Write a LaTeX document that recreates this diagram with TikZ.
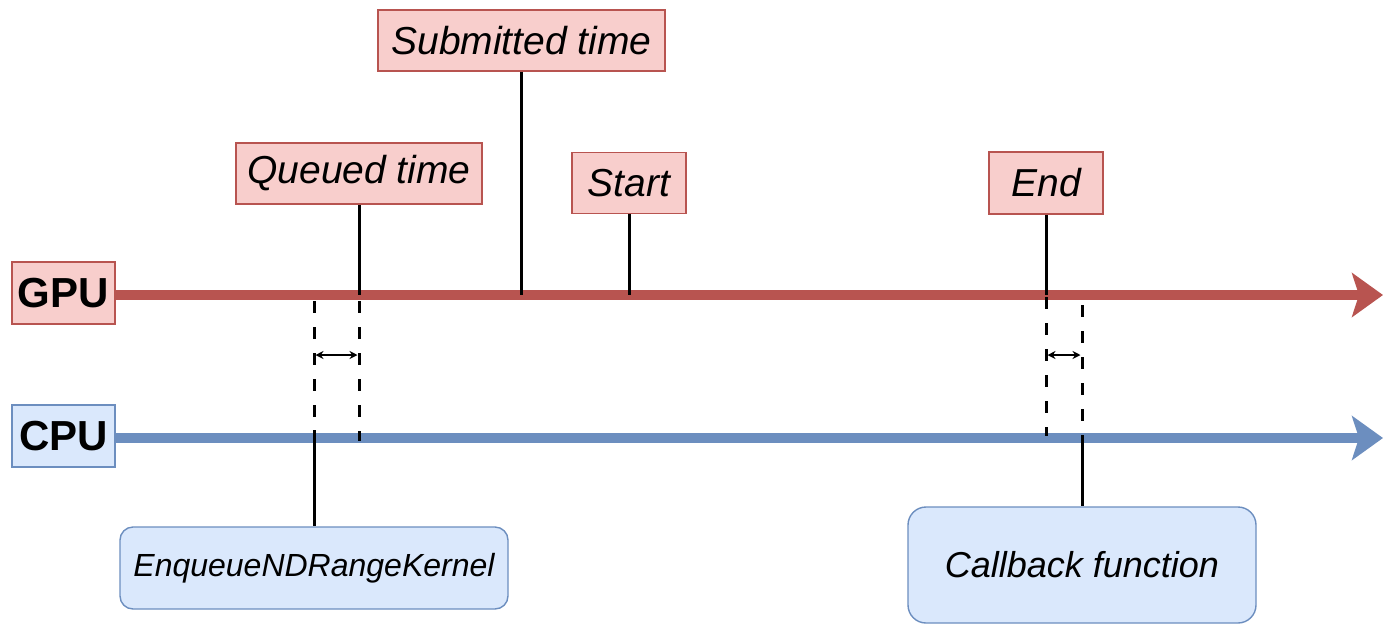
\documentclass[tikz,border=0pt]{standalone}
\usepackage{fontspec}
\setmainfont{Liberation Sans}
\usetikzlibrary{arrows.meta}
\definecolor{redfill}{HTML}{F8CECC}
\definecolor{redline}{HTML}{B85450}
\definecolor{bluefill}{HTML}{DAE8FC}
\definecolor{blueline}{HTML}{6C8EBF}
\tikzset{
  event/.style={draw=redline, fill=redfill, line width=1.6pt, inner sep=0pt,
    font=\fontsize{39}{46}\selectfont\itshape},
  lane/.style={line width=1.6pt, inner sep=0pt,
    font=\fontsize{42}{48}\selectfont\bfseries},
  call/.style={draw=blueline, fill=bluefill, line width=1.4pt, inner sep=0pt,
    rounded corners=13pt},
  axis/.style={line width=10pt, -{Stealth[length=31pt,width=44pt,inset=7pt]}},
  tick/.style={line width=3pt, black},
  guide/.style={line width=3pt, black, dash pattern=on 12pt off 14pt},
  gap/.style={line width=1.6pt, black, {Stealth[length=8pt,width=8pt]}-{Stealth[length=8pt,width=8pt]}}
}
\begin{document}
\begin{tikzpicture}[x=1pt,y=-1pt]
\useasboundingbox (0,0) rectangle (1384,625);

% lane labels
\node[lane, draw=redline, fill=redfill, minimum width=103pt, minimum height=62pt] (gpu) at (63.5,293) {GPU};
\node[lane, draw=blueline, fill=bluefill, minimum width=103pt, minimum height=62pt] (cpu) at (63.5,436) {CPU};

% time axes
\coordinate (gpuEnd) at (1383,295);
\coordinate (cpuEnd) at (1383,438);
\draw[axis, redline] (gpu.east |- gpuEnd) -- (gpuEnd);
\draw[axis, blueline] (cpu.east |- cpuEnd) -- (cpuEnd);

% GPU events
\node[event, minimum width=287pt, minimum height=61pt] (sub) at (521.5,40.5) {Submitted time};
\node[event, minimum width=246pt, minimum height=61pt] (que) at (359,173.5) {Queued time};
\node[event, minimum width=114pt, minimum height=61pt] (start) at (629,183) {Start};
\node[event, minimum width=114pt, minimum height=62pt] (end) at (1046,183) {End};

\coordinate (gQ) at (359,295);
\coordinate (gS) at (521,295);
\coordinate (gSt) at (629,295);
\coordinate (gE) at (1046,295);
\draw[tick] (que.south) -- (gQ);
\draw[tick] (sub.south -| gS) -- (gS);
\draw[tick] (start.south) -- (gSt);
\draw[tick] (end.south) -- (gE);

% host-side calls
\node[call, minimum width=388pt, minimum height=82pt,
  font=\fontsize{32}{38}\selectfont\itshape] (enq) at (314,568) {EnqueueNDRangeKernel};
\node[call, minimum width=348pt, minimum height=116pt, rounded corners=18pt,
  font=\fontsize{36}{42}\selectfont\itshape] (cb) at (1082,565) {Callback function};

\coordinate (cEnq) at (314,430);
\coordinate (cCb) at (1082,438);
\draw[tick] (cEnq) -- (enq.north);
\draw[tick] (cCb) -- (cb.north);

% offsets between the two clocks
\coordinate (lA) at (314,301);
\coordinate (lB) at (314,438);
\coordinate (lC) at (359,301);
\coordinate (lD) at (359,441);
\draw[guide] (lA) -- (lB);
\draw[guide] (lC) -- (lD);
\coordinate (a1) at (315.5,355);
\coordinate (a2) at (357.5,355);
\draw[gap] (a1) -- (a2);

\coordinate (rA) at (1046,297);
\coordinate (rB) at (1046,436);
\coordinate (rC) at (1082,305);
\coordinate (rD) at (1082,438);
\draw[guide] (rA) -- (rB);
\draw[guide] (rC) -- (rD);
\coordinate (b1) at (1047.5,355);
\coordinate (b2) at (1080.5,355);
\draw[gap] (b1) -- (b2);
\end{tikzpicture}
\end{document}
